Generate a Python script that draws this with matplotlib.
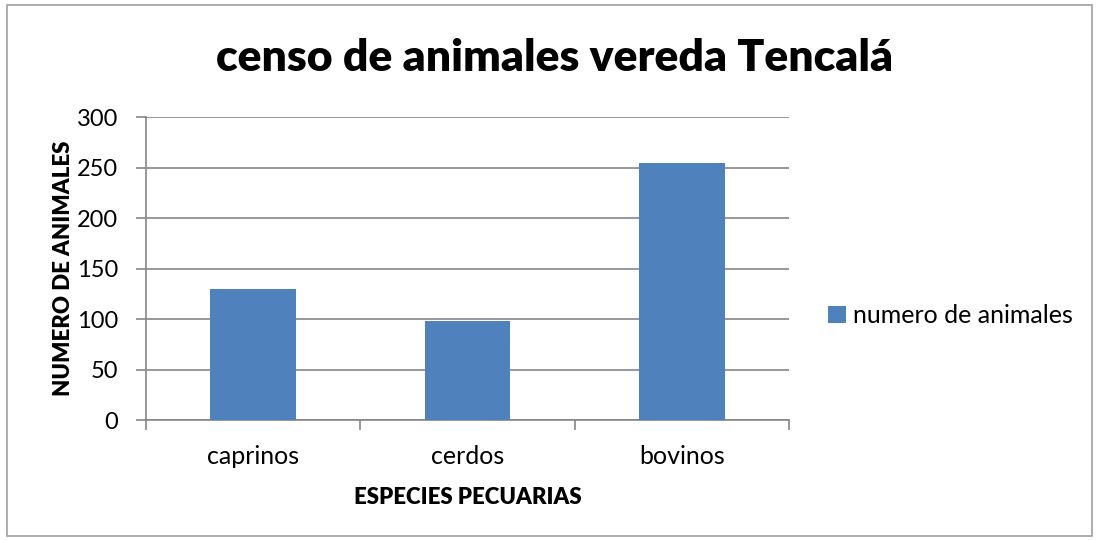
import matplotlib
matplotlib.use("Agg")
import matplotlib.pyplot as plt
from matplotlib.patches import Rectangle

categories = ["caprinos", "cerdos", "bovinos"]
values = [130, 98, 254]
series_name = "numero de animales"
title = "censo de animales vereda Tencalá"
xlabel = "ESPECIES PECUARIAS"
ylabel = "NUMERO DE ANIMALES"
yticks = [0, 50, 100, 150, 200, 250, 300]

plt.rcParams['font.family'] = ['Lato', 'DejaVu Sans']
blue = "#4F81BD"
grid_c = "#868686"

fig = plt.figure(figsize=(10.99, 5.40), dpi=100)
fig.add_artist(Rectangle((0.006, 0.008), 0.988, 0.982, transform=fig.transFigure,
                         fill=False, edgecolor="#A0A0A0", linewidth=1.2))
ax = fig.add_axes([0.1328, 0.2222, 0.585, 0.5611])
x = list(range(len(categories)))
ax.bar(x, values, width=0.4, color=blue, label=series_name, zorder=3)
ax.set_xlim(-0.5, len(categories) - 0.5)
ax.set_ylim(0, 300)
ax.set_yticks(yticks)
ax.set_yticklabels([str(v) for v in yticks], fontsize=17)
ax.set_xticks(x)
ax.set_xticklabels(categories, fontsize=18)
ax.tick_params(axis='x', length=0, pad=18)
ax.set_xticks([-0.5, 0.5, 1.5, 2.5], minor=True)
ax.tick_params(axis='x', which='minor', length=7, color=grid_c, width=1.2)
ax.tick_params(axis='y', length=7, color=grid_c, width=1.2, pad=13)
ax.yaxis.grid(True, color=grid_c, linewidth=1.2, zorder=0)
ax.set_axisbelow(True)
for s in ['top', 'right']:
    ax.spines[s].set_visible(False)
ax.spines['left'].set_color(grid_c)
ax.spines['bottom'].set_color(grid_c)
ax.spines['left'].set_linewidth(1.2)
ax.spines['bottom'].set_linewidth(1.2)
ax.set_xlabel(xlabel, fontsize=16, fontweight='heavy', labelpad=14)
ax.set_ylabel(ylabel, fontsize=16, fontweight='heavy', labelpad=2)
fig.text(0.505, 0.893, title, fontsize=32, fontweight='heavy', ha='center', va='center')
fig.legend(loc='center left', bbox_to_anchor=(0.733, 0.415), frameon=False, fontsize=18,
           handlelength=0.7, handleheight=0.7, handletextpad=0.3)
fig.savefig("out.png", dpi=100)
